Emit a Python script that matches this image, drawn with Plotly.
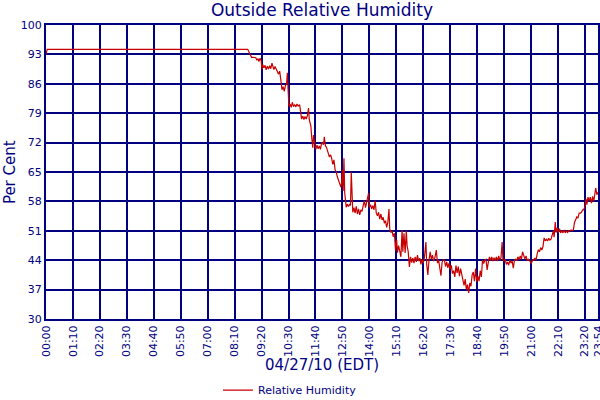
import pandas as pd
import plotly.graph_objects as go

# readings for 04/27/10
times = ["00:00", "00:03", "08:44", "08:47", "08:50", "08:54", "09:00", "09:05", "09:08", "09:11",
         "09:13", "09:16", "09:19", "09:21", "09:23", "09:26", "09:29", "09:32", "09:35", "09:38",
         "09:41", "09:44", "09:47", "09:49", "09:52", "09:55", "09:58", "10:01", "10:04", "10:07",
         "10:10", "10:13", "10:16", "10:19", "10:22", "10:25", "10:27", "10:29", "10:31", "10:34",
         "10:37", "10:40", "10:43", "10:46", "10:49", "10:52", "10:55", "10:59", "11:02", "11:04",
         "11:07", "11:10", "11:13", "11:16", "11:19", "11:22", "11:24", "11:28", "11:31", "11:33",
         "11:35", "11:38", "11:41", "11:44", "11:47", "11:50", "11:53", "11:56", "12:01", "12:03",
         "12:06", "12:09", "12:12", "12:16", "12:19", "12:22", "12:25", "12:28", "12:31", "12:34",
         "12:37", "12:40", "12:43", "12:46", "12:48", "12:50", "12:52", "12:54", "12:56", "12:58",
         "13:00", "13:03", "13:06", "13:09", "13:11", "13:13", "13:15", "13:17", "13:20", "13:23",
         "13:26", "13:29", "13:32", "13:35", "13:38", "13:41", "13:44", "13:47", "13:50", "13:53",
         "13:55", "13:58", "14:00", "14:03", "14:06", "14:09", "14:12", "14:15", "14:18", "14:21",
         "14:24", "14:27", "14:30", "14:33", "14:36", "14:39", "14:42", "14:45", "14:48", "14:51",
         "14:53", "14:56", "14:59", "15:02", "15:05", "15:08", "15:11", "15:13", "15:16", "15:19",
         "15:22", "15:25", "15:27", "15:30", "15:33", "15:36", "15:38", "15:41", "15:44", "15:47",
         "15:50", "15:53", "15:56", "15:59", "16:02", "16:05", "16:08", "16:11", "16:14", "16:17",
         "16:20", "16:23", "16:27", "16:29", "16:32", "16:35", "16:38", "16:41", "16:44", "16:47",
         "16:50", "16:54", "16:57", "17:00", "17:03", "17:06", "17:09", "17:12", "17:15", "17:18",
         "17:21", "17:24", "17:27", "17:30", "17:33", "17:36", "17:39", "17:42", "17:45", "17:48",
         "17:51", "17:54", "17:57", "18:00", "18:03", "18:06", "18:09", "18:12", "18:15", "18:18",
         "18:21", "18:24", "18:27", "18:30", "18:33", "18:36", "18:39", "18:42", "18:45", "18:48",
         "18:51", "18:54", "18:57", "19:00", "19:03", "19:06", "19:09", "19:12", "19:15", "19:18",
         "19:21", "19:24", "19:27", "19:30", "19:33", "19:36", "19:39", "19:42", "19:45", "19:47",
         "19:50", "19:53", "19:56", "19:59", "20:02", "20:05", "20:08", "20:11", "20:14", "20:17",
         "20:20", "20:23", "20:26", "20:29", "20:32", "20:35", "20:38", "20:41", "20:44", "20:47",
         "20:50", "20:53", "20:56", "20:59", "21:01", "21:04", "21:07", "21:10", "21:13", "21:16",
         "21:19", "21:22", "21:25", "21:28", "21:31", "21:34", "21:37", "21:40", "21:43", "21:46",
         "21:49", "21:52", "21:55", "21:58", "22:00", "22:03", "22:05", "22:08", "22:11", "22:14",
         "22:17", "22:20", "22:23", "22:26", "22:29", "22:32", "22:35", "22:38", "22:41", "22:44",
         "22:47", "22:50", "22:53", "22:56", "22:59", "23:02", "23:05", "23:08", "23:11", "23:14",
         "23:17", "23:20", "23:23", "23:25", "23:28", "23:31", "23:34", "23:37", "23:40", "23:43",
         "23:46", "23:48", "23:51", "23:54"]

humidity = [93.0, 94.2, 94.2, 93.6, 93.2, 92.3, 92.3, 92.2, 91.6, 92.0,
            91.3, 92.1, 91.5, 89.4, 90.6, 89.8, 90.4, 89.3, 90.2, 89.5,
            90.3, 89.6, 90.9, 90.2, 89.4, 90.1, 89.2, 88.9, 88.3, 89.0,
            87.0, 84.6, 85.3, 84.2, 85.6, 86.0, 88.6, 85.0, 80.6, 81.2,
            80.4, 81.6, 80.6, 81.0, 80.5, 81.2, 80.7, 81.0, 79.5, 77.6,
            78.3, 77.5, 78.2, 77.6, 78.4, 80.2, 77.4, 76.0, 72.5, 70.8,
            73.8, 71.5, 70.4, 71.4, 70.5, 71.2, 70.4, 72.0, 71.5, 73.4,
            71.2, 70.8, 69.5, 68.6, 69.1, 68.3, 66.8, 67.9, 65.5, 65.0,
            63.8, 63.0, 62.2, 61.4, 62.5, 65.5, 60.5, 68.3, 60.0, 57.0,
            56.6, 57.3, 56.8, 57.4, 57.0, 65.0, 56.0, 55.4, 56.5, 55.2,
            56.8, 55.0, 56.2, 54.8, 56.0, 55.6, 57.0, 58.2, 56.5, 57.8,
            58.3, 60.0, 56.6, 57.2, 56.2, 57.0, 56.0, 58.2, 55.2, 54.6,
            55.4, 53.8, 55.0, 53.6, 54.2, 52.8, 53.4, 51.8, 53.0, 56.2,
            51.4, 50.6, 51.0, 49.6, 50.4, 46.4, 48.8, 45.8, 47.5, 46.0,
            44.8, 51.2, 46.0, 50.4, 45.7, 51.0, 47.5, 46.0, 42.4, 44.8,
            43.4, 44.5, 43.3, 44.8, 43.6, 45.2, 43.8, 44.5, 43.0, 44.2,
            43.3, 44.6, 48.3, 43.0, 40.5, 44.0, 46.0, 44.2, 45.2, 43.8,
            44.5, 46.4, 43.3, 44.0, 42.0, 40.3, 43.5, 44.1, 44.0, 42.5,
            43.6, 42.2, 43.3, 41.8, 42.8, 40.8, 41.5, 40.0, 42.7, 41.0,
            42.5, 40.2, 42.0, 40.5, 39.3, 38.0, 39.5, 37.0, 38.2, 36.2,
            38.6, 37.8, 40.5, 41.2, 39.0, 42.0, 38.8, 40.2, 39.0, 41.5,
            40.0, 44.0, 43.2, 44.0, 44.2, 41.7, 43.5, 44.8, 43.9, 44.8,
            43.8, 44.6, 43.9, 44.8, 43.8, 45.0, 44.0, 44.6, 48.3, 44.2,
            43.8, 44.2, 43.0, 43.6, 42.8, 44.0, 43.3, 43.8, 42.1, 44.0,
            44.2, 44.0, 44.8, 44.1, 45.0, 44.2, 46.0, 44.9, 44.3, 45.0,
            44.0, 44.2, 44.0, 43.5, 43.3, 44.0, 44.0, 44.5, 44.0, 45.5,
            46.5, 46.0, 47.0, 46.4, 47.2, 49.3, 48.6, 49.0, 48.6, 49.2,
            48.8, 49.0, 50.0, 51.0, 49.5, 53.1, 50.6, 51.7, 50.6, 51.5,
            50.5, 51.0, 50.5, 51.2, 50.5, 51.0, 50.6, 51.0, 51.0, 51.2,
            51.0, 51.2, 53.0, 53.6, 54.3, 54.0, 55.2, 55.2, 55.4, 56.0,
            56.0, 56.8, 58.6, 57.2, 59.0, 58.2, 59.0, 57.6, 59.2, 58.0,
            59.4, 61.2, 59.6, 60.2]

tick_labels = ["00:00", "01:10", "02:20", "03:30", "04:40", "05:50", "07:00", "08:10",
               "09:20", "10:30", "11:40", "12:50", "14:00", "15:10", "16:20", "17:30",
               "18:40", "19:50", "21:00", "22:10", "23:20", "23:54"]
y_ticks = [30, 37, 44, 51, 58, 65, 72, 79, 86, 93, 100]

day = "2010-04-27 "
x = pd.to_datetime([day + t for t in times])
tick_pos = [day + t for t in tick_labels]

navy = "#000080"
font = "DejaVu Sans"

fig = go.Figure()
fig.add_trace(go.Scatter(x=x, y=humidity, mode="lines", name="Relative Humidity",
                         line=dict(color="#C80000", width=1.2)))

fig.update_layout(
    width=600, height=400,
    margin=dict(l=46, r=2, t=25, b=81, autoexpand=False),
    paper_bgcolor="white", plot_bgcolor="white",
    font=dict(family=font, color=navy),
    title=dict(text="Outside Relative Humidity", x=0.5, xref="paper",
               y=0.975, yanchor="middle", font=dict(size=17, color=navy)),
    showlegend=True,
    legend=dict(orientation="h", x=0.442, xanchor="center", y=-0.242, yanchor="middle",
                font=dict(size=11, color=navy)),
    annotations=[
        dict(text="04/27/10 (EDT)", xref="paper", yref="paper", x=0.5, y=-0.156,
             showarrow=False, font=dict(size=15, color=navy), yanchor="middle"),
        dict(text="Per Cent", xref="paper", yref="paper", x=-0.065, y=0.5,
             showarrow=False, textangle=-90, font=dict(size=15, color=navy),
             xanchor="center"),
    ],
)

fig.update_xaxes(type="date", range=[tick_pos[0], tick_pos[-1]],
                 tickvals=tick_pos, ticktext=tick_labels, tickangle=-90,
                 tickfont=dict(size=11, color=navy), automargin=False,
                 ticklabeloverflow="allow",
                 showgrid=True, gridcolor=navy, gridwidth=1.5,
                 showline=True, linecolor=navy, linewidth=2, mirror=True,
                 ticks="", zeroline=False)
fig.update_yaxes(range=[30, 100], tickvals=y_ticks, automargin=False,
                 tickfont=dict(size=11, color=navy),
                 showgrid=True, gridcolor=navy, gridwidth=1.5,
                 showline=True, linecolor=navy, linewidth=2, mirror=True,
                 ticks="", zeroline=False)

# page body has a default margin; drop it so the figure sits at the top-left corner
fig.write_html("out.html", config={"displayModeBar": False},
               post_script="document.body.style.margin='0';")
